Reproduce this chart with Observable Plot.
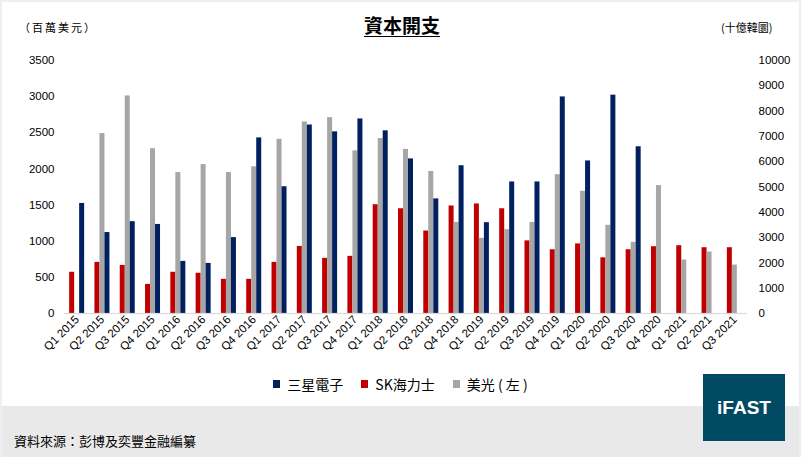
<!DOCTYPE html>
<html>
<head>
<meta charset="utf-8">
<script src="https://cdn.jsdelivr.net/npm/d3@7"></script>
<script src="https://cdn.jsdelivr.net/npm/@observablehq/plot@0.6"></script>
<style>
  html, body { margin: 0; padding: 0; background: #fff; }
  #wrap { position: relative; width: 801px; height: 457px; overflow: hidden; background: #fff; font-family: "Noto Sans CJK TC", "Liberation Sans", Arial, sans-serif; color: #000; }
  #frame { position: absolute; left: 0; top: 0; width: 797px; height: 455px; border: 2px solid #efefef; border-bottom: none; pointer-events: none; z-index: 5; }
  #chart { position: absolute; left: 0; top: 0; }
  #title { position: absolute; left: 302px; width: 200px; top: 12px; text-align: center; font-size: 19px; line-height: 26px; font-weight: bold; text-decoration: underline; text-underline-offset: 3px; }
  .unit { position: absolute; top: 19px; font-size: 11px; line-height: 16px; }
  #unitL { left: 19px; letter-spacing: 2px; }
  #unitR { left: 721px; }
  #legend { position: absolute; top: 374px; left: 0; width: 801px; display: flex; justify-content: center; align-items: center; font-size: 14px; line-height: 20px; padding-left: 0px; box-sizing: border-box; }
  .item { display: flex; align-items: center; margin: 0 9px; }
  .sw { width: 7px; height: 8px; margin-right: 7px; }
  #footer { position: absolute; left: 0; top: 406px; width: 801px; height: 51px; background: #e9e9e9; }
  #source { position: absolute; left: 14px; top: 431px; font-size: 13px; line-height: 20px; }
  #logo { position: absolute; left: 703px; top: 374px; width: 82px; height: 67px; background: #004b63; color: #fff; font-family: "Liberation Sans", Arial, sans-serif; font-weight: bold; font-size: 19px; display: flex; align-items: center; justify-content: center; z-index: 3; }
</style>
</head>
<body>
<div id="wrap">
  <div id="footer"></div>
  <div id="chart"></div>
  <div id="title">資本開支</div>
  <div class="unit" id="unitL">（百萬美元）</div>
  <div class="unit" id="unitR">(十億韓圜)</div>
  <div id="legend"></div>
  <div id="source">資料來源：彭博及奕豐金融編纂</div>
  <div id="logo">iFAST</div>
  <div id="frame"></div>
</div>
<script>
// Quarters
const quarters = ["Q1 2015","Q2 2015","Q3 2015","Q4 2015","Q1 2016","Q2 2016","Q3 2016","Q4 2016",
  "Q1 2017","Q2 2017","Q3 2017","Q4 2017","Q1 2018","Q2 2018","Q3 2018","Q4 2018",
  "Q1 2019","Q2 2019","Q3 2019","Q4 2019","Q1 2020","Q2 2020","Q3 2020","Q4 2020",
  "Q1 2021","Q2 2021","Q3 2021"];

// 三星電子 (十億韓圜, right axis)
const samsung = [4350,3200,3630,3520,2060,1980,3000,6940,
  5010,7450,7180,7690,7220,6110,4530,5840,
  3590,5200,5200,8560,6030,8630,6590,null,
  null,null,null];

// SK海力士 (十億韓圜, right axis)
const skhynix = [1630,2020,1900,1150,1630,1590,1350,1350,
  2020,2650,2180,2260,4300,4140,3260,4250,
  4330,4140,2870,2520,2750,2200,2520,2640,
  2680,2600,2600];

// 美光 (百萬美元, left axis)
const micron = [null,2490,3010,2280,1950,2060,1950,2030,
  2410,2650,2710,2250,2420,2270,1965,1260,
  1040,1160,1260,1920,1690,1220,985,1770,
  740,850,670];

const seriesNames = ["SK海力士", "美光（左）", "三星電子"];
const seriesColors = ["#C00000", "#A6A6A6", "#002060"];
const legendOrder = [["三星電子", "#002060"], ["SK海力士", "#C00000"], ["美光 ( 左 )", "#A6A6A6"]];

const leftTicks = d3.range(0, 3501, 500);
const rightTicks = d3.range(0, 10001, 1000);
const leftMax = 3500, rightMax = 10000;
const k = leftMax / rightMax; // map right-axis values onto the left scale

const rows = [];
quarters.forEach((q, i) => {
  if (skhynix[i] != null) rows.push({q, s: seriesNames[0], v: skhynix[i] * k});
  if (micron[i] != null) rows.push({q, s: seriesNames[1], v: micron[i]});
  if (samsung[i] != null) rows.push({q, s: seriesNames[2], v: samsung[i] * k});
});

const chart = Plot.plot({
  width: 801,
  height: 405,
  marginTop: 60,
  marginBottom: 92,
  marginLeft: 64,
  marginRight: 54,
  style: {fontFamily: "'Liberation Sans', Arial, sans-serif", fontSize: "11.5px", color: "#000", background: "transparent", overflow: "visible"},
  fx: {domain: quarters, padding: 0, round: false, label: null, tickRotate: -45, tickSize: 0, tickPadding: 4},
  x: {domain: seriesNames, paddingInner: 0, paddingOuter: 1.03, round: false, axis: null},
  y: {domain: [0, leftMax], axis: null},
  color: {domain: seriesNames, range: seriesColors},
  marks: [
    Plot.barY(rows, {fx: "q", x: "s", y: "v", fill: "s"}),
    Plot.ruleY([0], {stroke: "#d9d9d9", strokeWidth: 1.2}),
    Plot.axisY(leftTicks, {anchor: "left", tickSize: 0, tickPadding: 10, label: null, tickFormat: d => String(d)}),
    Plot.axisY(rightTicks.map(v => v * k), {anchor: "right", tickSize: 0, tickPadding: 11, label: null, tickFormat: d => String(Math.round(d / k))})
  ]
});
document.getElementById("chart").appendChild(chart);

const legend = document.getElementById("legend");
legendOrder.forEach(([name, col]) => {
  const it = document.createElement("div");
  it.className = "item";
  const sw = document.createElement("div");
  sw.className = "sw";
  sw.style.background = col;
  const t = document.createElement("span");
  t.textContent = name;
  it.appendChild(sw);
  it.appendChild(t);
  legend.appendChild(it);
});
</script>
</body>
</html>
